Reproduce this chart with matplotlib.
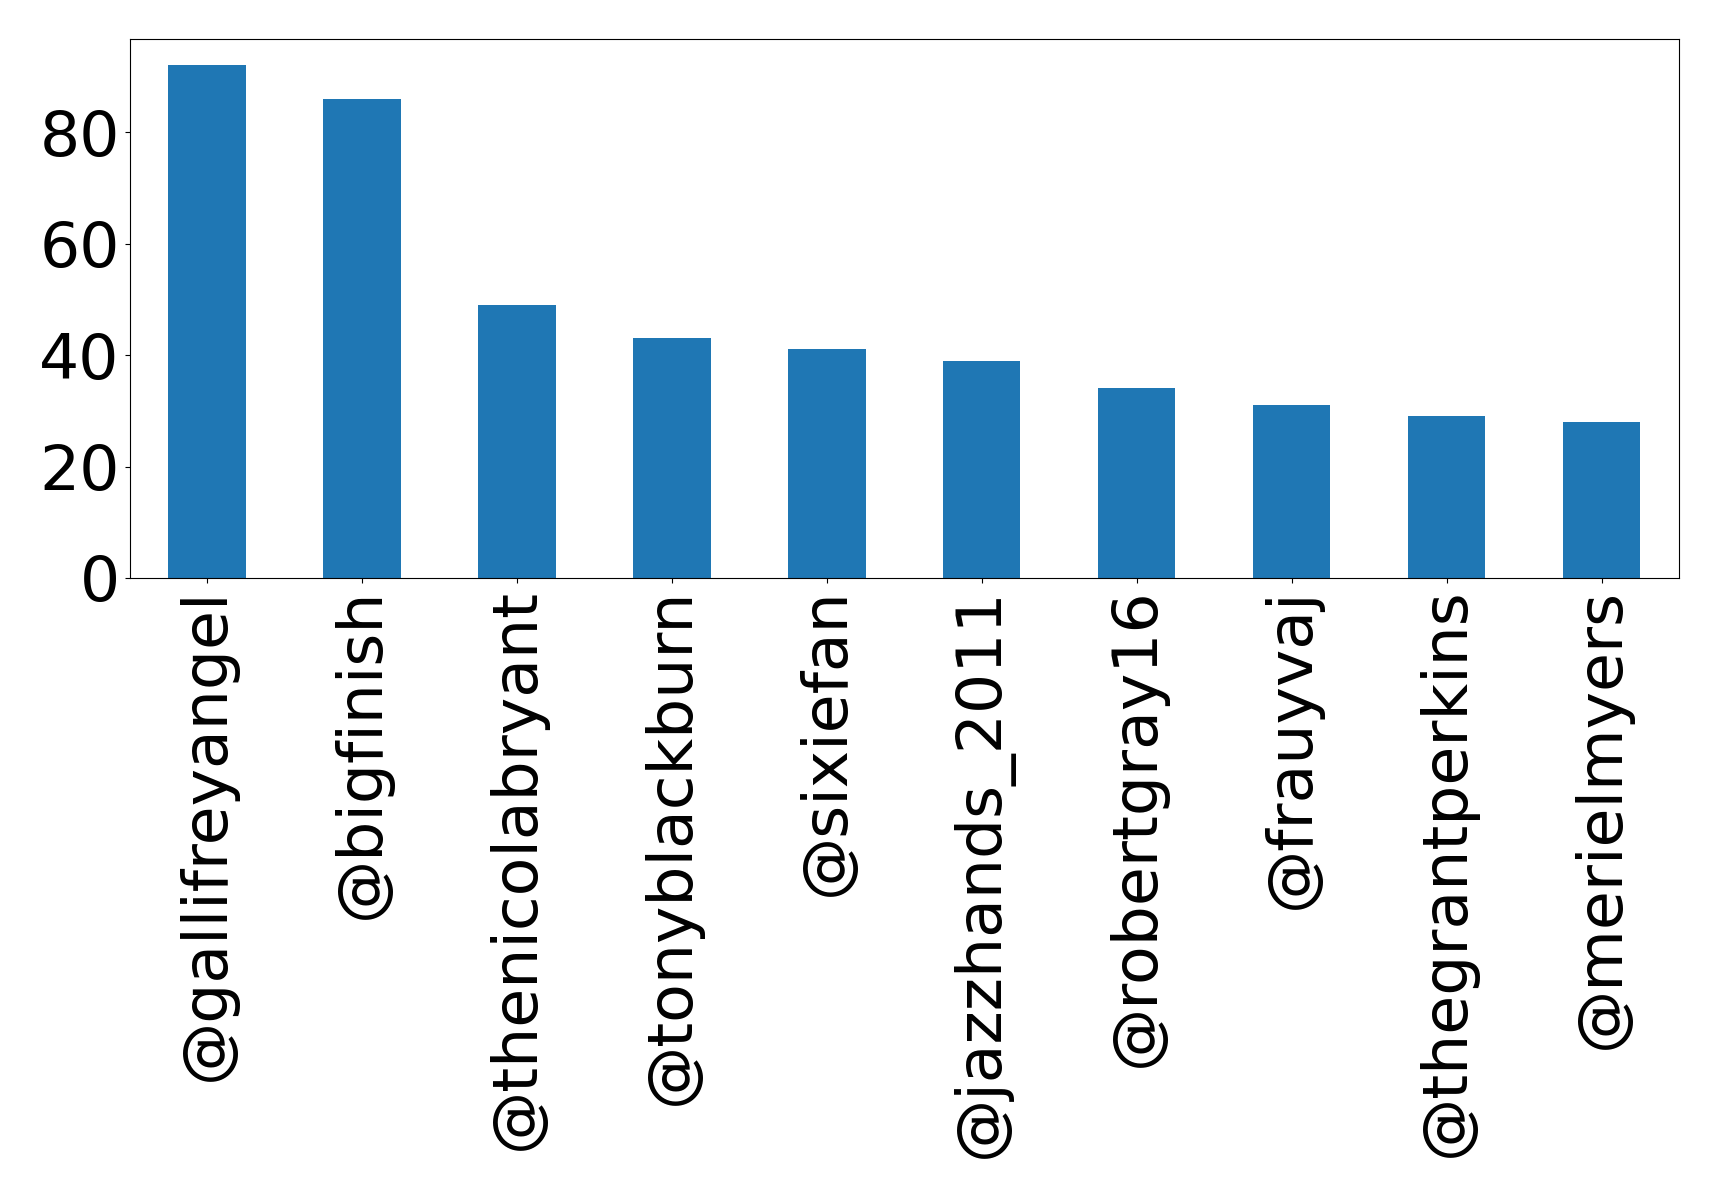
import matplotlib
matplotlib.use("Agg")
import matplotlib.pyplot as plt
import numpy as np

handles = ["@gallifreyangel", "@bigfinish", "@thenicolabryant", "@tonyblackburn",
           "@sixiefan", "@jazzhands_2011", "@robertgray16", "@frauyvaj",
           "@thegrantperkins", "@merielmyers"]
counts = [92, 86, 49, 43, 41, 39, 34, 31, 29, 28]

W, H = 1719, 1191
fig = plt.figure(figsize=(W / 100, H / 100), dpi=100)
ax = fig.add_axes([129.5 / W, 1 - 578 / H, (1679 - 129.5) / W, (578 - 39.5) / H])

x = np.arange(len(handles))
ax.bar(x, counts, width=0.5, color="#1f77b4")
ax.set_xlim(-0.5, len(handles) - 0.5)
ax.set_ylim(0, max(counts) * 1.05)
ax.set_xticks(x)
ax.set_xticklabels(handles, rotation=90)
ax.set_yticks([0, 20, 40, 60, 80])
ax.tick_params(labelsize=45.5)

fig.savefig("out.png", dpi=100)
